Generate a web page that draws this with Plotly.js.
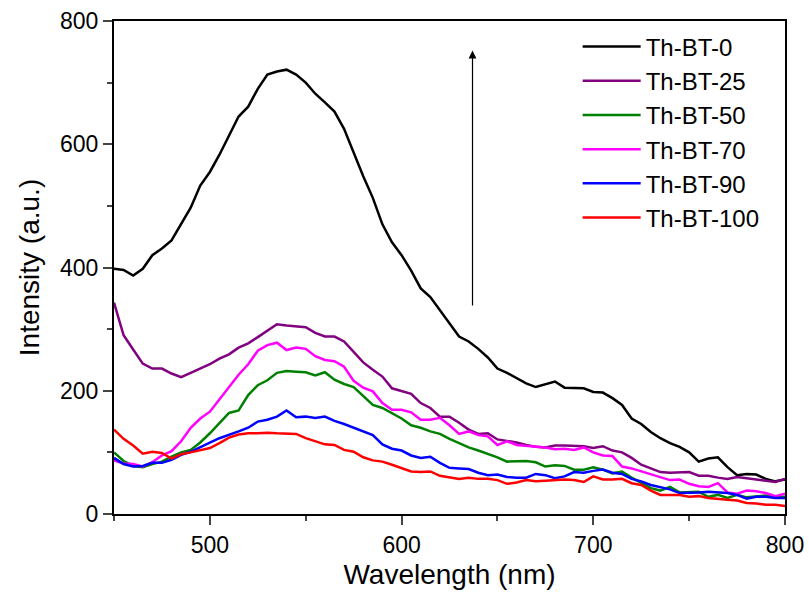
<!DOCTYPE html>
<html>
<head>
<meta charset="utf-8">
<script src="https://cdn.plot.ly/plotly-3.0.1.min.js"></script>
<style>html,body{margin:0;padding:0;background:#fff;}#chart{width:809px;height:602px;}</style>
</head>
<body>
<div id="chart"></div>
<script>
const wavelength = [450,455,460,465,470,475,480,485,490,495,500,505,510,515,520,525,530,535,540,545,550,555,560,565,570,575,580,585,590,595,600,605,610,615,620,625,630,635,640,645,650,655,660,665,670,675,680,685,690,695,700,705,710,715,720,725,730,735,740,745,750,755,760,765,770,775,780,785,790,795,800];

const thBT0 = [398,396,387,398,420,431,444,470,497,533,555,583,615,645,661,690,713,718,721,713,700,682,668,653,625,585,548,513,470,441,420,395,366,352,330,308,288,280,268,254,236,229,220,212,206,210,215,205,205,204,198,197,188,177,155,146,133,123,115,109,100,85,90,92,76,63,65,64,57,53,56];

const thBT25 = [343,290,267,244,236,236,228,222,229,236,243,252,259,270,277,287,298,308,306,304,303,294,288,288,280,263,246,234,223,204,199,195,180,172,158,158,148,137,130,131,121,119,116,112,109,108,111,111,111,110,107,110,103,100,91,80,74,68,67,67,68,62,62,59,57,60,58,57,55,52,57];

const thBT50 = [100,86,78,76,81,85,93,100,104,116,131,148,164,168,193,209,217,229,232,231,230,225,230,218,211,206,191,177,172,164,155,144,140,134,130,122,115,108,103,98,92,85,85,86,84,77,79,78,72,72,76,72,66,69,59,50,42,38,44,35,35,36,28,31,26,31,27,29,30,27,28];

const thBT70 = [87,82,81,77,84,95,102,118,140,155,166,186,206,226,243,265,274,278,266,270,268,256,250,248,239,216,205,199,180,169,169,165,153,153,156,144,130,134,128,126,112,118,112,111,110,108,105,106,104,108,100,95,94,77,74,69,65,59,55,56,49,45,44,50,35,33,38,37,34,29,33];

const thBT90 = [91,81,77,78,83,83,88,96,101,109,116,123,128,134,140,150,153,158,168,157,158,156,158,151,146,140,135,128,113,106,103,95,91,93,83,75,74,73,67,63,64,60,59,59,65,63,58,61,68,67,70,72,67,65,57,53,47,44,40,34,34,35,36,35,34,31,25,28,28,26,26];

const thBT100 = [137,122,111,98,101,99,90,97,100,104,107,115,124,129,131,131,132,131,131,130,123,118,113,112,104,101,92,87,85,80,75,69,68,69,62,60,57,59,57,57,55,49,51,55,53,54,55,56,55,52,61,56,56,57,50,47,38,31,31,31,28,29,26,24,23,22,18,17,15,15,13];

const seriesNames = ["Th-BT-0","Th-BT-25","Th-BT-50","Th-BT-70","Th-BT-90","Th-BT-100"];
const seriesColors = ["#000000","#800080","#008000","#ff00ff","#0000ff","#ff0000"];
const seriesValues = [thBT0, thBT25, thBT50, thBT70, thBT90, thBT100];

const arrowX = 637, arrowFrom = 336, arrowTo = 752;

const traces = seriesValues.map((vals, i) => ({
  x: wavelength, y: vals, type: 'scatter', mode: 'lines', name: seriesNames[i],
  line: {color: seriesColors[i], width: 2.5}
}));

const font = "Arial, 'Liberation Sans', sans-serif";
const layout = {
  width: 809, height: 602,
  margin: {l: 114, r: 24, t: 21, b: 88},
  paper_bgcolor: '#fff', plot_bgcolor: '#fff',
  font: {family: font, color: '#000', size: 23},
  showlegend: true,
  legend: {
    x: 0.691, y: 0.993, xanchor: 'left', yanchor: 'top',
    bgcolor: 'rgba(0,0,0,0)', font: {size: 24, family: font, color: '#000'},
    itemwidth: 58, tracegroupgap: 0
  },
  xaxis: {
    range: [450, 800], tick0: 0, dtick: 100, ticks: 'outside', ticklen: 9, tickwidth: 2,
    showline: true, linewidth: 2, linecolor: '#000', mirror: true, showgrid: false, zeroline: false,
    minor: {dtick: 50, ticks: 'outside', ticklen: 5, tickwidth: 2, showgrid: false},
    tickfont: {size: 23, family: font},
    title: {text: 'Wavelength (nm)', font: {size: 28, family: font}, standoff: 8}
  },
  yaxis: {
    range: [0, 800], tick0: 0, dtick: 200, ticks: 'outside', ticklen: 9, tickwidth: 2,
    showline: true, linewidth: 2, linecolor: '#000', mirror: true, showgrid: false, zeroline: false,
    minor: {dtick: 100, ticks: 'outside', ticklen: 5, tickwidth: 2, showgrid: false},
    tickfont: {size: 23, family: font},
    title: {text: 'Intensity (a.u.)', font: {size: 28, family: font}, standoff: 12}
  },
  annotations: [{
    x: arrowX, y: arrowTo, ax: arrowX, ay: arrowFrom, xref: 'x', yref: 'y', axref: 'x', ayref: 'y',
    text: '', showarrow: true, arrowhead: 2, arrowsize: 1.3, arrowwidth: 1.2, arrowcolor: '#000'
  }]
};

Plotly.newPlot('chart', traces, layout, {displayModeBar: false, staticPlot: true});
</script>
</body>
</html>
